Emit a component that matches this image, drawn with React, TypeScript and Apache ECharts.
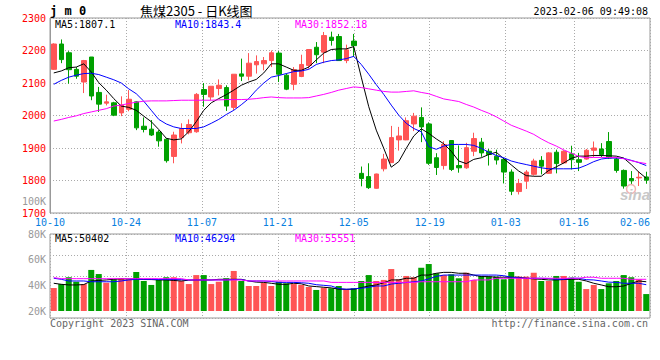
import React, { useEffect, useRef } from 'react';
import * as echarts from 'echarts';

const dates = [
  '10-10','10-11','10-12','10-13','10-14','10-17','10-18','10-19','10-20','10-21',
  '10-24','10-25','10-26','10-27','10-28','10-31','11-01','11-02','11-03','11-04',
  '11-07','11-08','11-09','11-10','11-11','11-14','11-15','11-16','11-17','11-18',
  '11-21','11-22','11-23','11-24','11-25','11-28','11-29','11-30','12-01','12-02',
  '12-05','12-06','12-07','12-08','12-09','12-12','12-13','12-14','12-15','12-16',
  '12-19','12-20','12-21','12-22','12-23','12-26','12-27','12-28','12-29','12-30',
  '01-03','01-04','01-05','01-06','01-09','01-10','01-11','01-12','01-13','01-16',
  '01-17','01-18','01-19','01-20','01-30','01-31','02-01','02-02','02-03','02-06'
];
const tickLabels = ['10-10','10-24','11-07','11-21','12-05','12-19','01-03','01-16','02-06'];

const opens = [
  2142,2220,2193,2142,2103,2180,2071,2038,2039,2008,
  2019,2042,1967,1958,1949,1927,1874,1932,1947,1950,
  2080,2057,2083,2086,2025,2128,2121,2156,2159,2169,
  2192,2124,2096,2120,2154,2210,2195,2241,2243,2169,
  2229,1822,1812,1776,1836,1855,1925,1925,1974,1994,
  1974,1870,1846,1923,1846,1839,1890,1918,1890,1875,
  1865,1826,1766,1798,1819,1862,1822,1887,1854,1882,
  1864,1866,1893,1897,1920,1866,1831,1806,1808,1811
];
const closes = [
  2220,2172,2141,2121,2169,2060,2035,2042,2001,2032,
  2050,1962,1957,1940,1922,1861,1940,1960,1972,2065,
  2065,2090,2093,2029,2127,2121,2161,2166,2169,2193,
  2127,2081,2141,2157,2203,2187,2246,2231,2169,2202,
  2215,1806,1778,1820,1866,1932,1937,1984,1998,1965,
  1853,1840,1911,1834,1839,1901,1929,1885,1880,1863,
  1826,1767,1791,1826,1860,1844,1885,1852,1890,1864,
  1856,1893,1900,1880,1869,1831,1783,1799,1810,1801
];
const lows = [
  2140,2161,2098,2113,2069,2047,2011,2031,1998,1998,
  2013,1955,1948,1937,1904,1855,1853,1914,1942,1947,
  2027,2047,2062,2014,2016,2106,2108,2129,2139,2149,
  2103,2078,2078,2118,2144,2161,2161,2215,2169,2161,
  2180,1782,1774,1775,1828,1855,1892,1924,1952,1918,
  1848,1817,1834,1829,1824,1836,1875,1873,1846,1849,
  1791,1755,1757,1774,1815,1819,1821,1822,1852,1834,
  1829,1864,1872,1872,1866,1824,1775,1786,1783,1790
];
const highs = [
  2222,2234,2198,2149,2171,2180,2088,2064,2042,2059,
  2078,2044,1994,1986,1955,1930,1950,1976,1988,2069,
  2100,2090,2111,2093,2127,2175,2192,2185,2180,2200,
  2198,2129,2149,2187,2203,2226,2257,2258,2251,2218,
  2251,1843,1853,1821,1882,1968,1965,1994,2008,2025,
  1979,1884,1921,1923,1908,1916,1947,1931,1897,1895,
  1870,1834,1805,1832,1867,1875,1887,1895,1893,1907,
  1885,1897,1920,1915,1949,1871,1834,1829,1829,1827
];

const ma5 = [
  2131,2137,2147,2149,2159,2134,2101,2078,2052,2029,
  2025,2016,1998,1981,1957,1930,1925,1928,1950,1981,
  2016,2039,2052,2064,2078,2093,2103,2111,2131,2159,
  2159,2149,2139,2139,2149,2171,2192,2203,2205,2205,
  2212,2118,2027,1955,1899,1841,1858,1899,1937,1959,
  1945,1928,1913,1890,1860,1852,1865,1870,1880,1887,
  1867,1848,1829,1815,1813,1813,1831,1842,1854,1868,
  1875,1875,1877,1877,1876,1875,1869,1849,1826,1807
];
const ma10 = [
  2096,2108,2118,2124,2129,2130,2126,2118,2110,2100,
  2082,2067,2044,2016,1988,1974,1965,1960,1960,1960,
  1965,1976,1988,2003,2016,2033,2052,2078,2100,2118,
  2123,2129,2135,2137,2142,2157,2164,2169,2171,2175,
  2182,2157,2127,2095,2065,2032,2001,1976,1960,1950,
  1904,1896,1906,1911,1911,1911,1908,1899,1887,1877,
  1870,1860,1854,1849,1844,1839,1836,1836,1836,1836,
  1838,1847,1858,1866,1869,1869,1868,1862,1855,1846
];
const ma30 = [
  1983,1988,1994,1999,2006,2011,2016,2021,2029,2032,
  2037,2041,2044,2045,2045,2045,2046,2047,2047,2047,
  2047,2047,2048,2049,2049,2049,2050,2052,2055,2057,
  2055,2054,2054,2054,2055,2060,2065,2071,2078,2083,
  2088,2086,2082,2078,2074,2072,2072,2074,2076,2071,
  2067,2059,2051,2047,2043,2034,2026,2016,2007,1996,
  1983,1970,1961,1952,1942,1928,1916,1906,1894,1884,
  1874,1870,1871,1871,1871,1871,1867,1861,1856,1852
];

const volumes = [
  37900,41000,46300,42800,41000,52000,48800,42000,44700,45500,
  44700,50400,43400,40300,44200,46300,46300,43400,41000,48000,
  48000,41000,42800,45500,51200,43400,39500,39500,42000,39500,
  42800,41600,41000,40300,38700,36400,38200,37700,39500,37100,
  37700,43400,48000,43400,44200,52700,44700,47300,46300,53700,
  56600,49400,48000,48600,45500,49800,44200,47300,46800,46800,
  44700,50400,46800,46800,49800,43400,43400,47300,47300,46000,
  42800,37100,40300,37100,41600,43400,48000,46300,44700,33200
];
const volMa5 = [
  41600,40800,40300,40300,40600,43400,43800,44200,44700,45000,
  45000,45000,44500,44500,44200,44200,43800,43400,44000,44200,
  44200,44200,44700,44700,44700,44700,43400,42500,42300,41600,
  40800,40800,41600,41200,39500,39000,38500,38000,37000,36900,
  36900,38200,39500,40300,42000,44200,44200,45500,45500,48000,
  48000,49400,50100,50100,49400,49400,48000,46800,46800,46300,
  46300,46300,46300,45500,45000,44700,44200,44200,44500,44700,
  44700,43400,41600,40300,38900,38900,39500,41500,43400,42800
];
const volMa10 = [
  45500,44700,43400,43400,43400,42800,42800,42800,42800,43400,
  44200,44700,44700,44700,44500,44500,44500,44400,44200,44200,
  44200,44200,44200,44200,44500,44500,43400,43400,43400,43000,
  42300,42300,42300,42000,41600,40500,40000,39500,37500,36900,
  37300,37700,38500,39500,39500,41000,41600,42200,42800,43400,
  45000,47000,48000,48000,48000,48000,48000,48000,48000,48000,
  47500,46300,45800,45500,45500,45500,45300,44700,44700,45500,
  45500,44400,44200,43400,42500,42300,41600,41600,41600,40500
];
const volMa30 = [
  46000,45200,45200,45200,45200,45200,45200,45200,45200,45200,
  45200,45200,45200,45200,45200,45200,45200,45200,44200,44200,
  44200,44200,44200,44200,44200,44200,43400,43400,43400,43400,
  43400,43400,43400,43400,43400,43400,43400,42300,42300,42300,
  42300,42300,42300,42300,42300,42300,42300,42300,42300,42800,
  42800,42800,42800,42800,42800,42800,44200,44200,44200,45500,
  45500,45500,45500,45500,45500,45500,45500,45500,45500,45500,
  45500,46300,46300,45500,45500,45500,45500,44700,44700,44700
];

const priceMaLabels = ['MA5:1807.1', 'MA10:1843.4', 'MA30:1852.18'];
const volMaLabels = ['MA5:50402', 'MA10:46294', 'MA30:55551'];
const maColors = ['#000000', '#0000ff', '#ff00ff'];
const titleText = '焦煤2305 - 日K线图';
const symbolText = 'j m 0';
const timeText = '2023-02-06 09:49:08';

const UP = '#ff5555';
const DOWN = '#00a000';
const MONO = "'DejaVu Sans Mono', monospace";
const GRIDC = '#aaaaaa';
const BORDER = '#999999';

export default function App() {
  const ref = useRef<HTMLDivElement>(null);
  useEffect(() => {
    const chart = echarts.init(ref.current as HTMLDivElement, null, { renderer: 'svg' });
    const candleData = dates.map((_, i) => [opens[i], closes[i], lows[i], highs[i]]);
    const volData = volumes.map((v, i) => ({
      value: v,
      itemStyle: { color: closes[i] >= opens[i] ? UP : DOWN },
    }));
    const labelDates = dates.map((d, i) =>
      i === dates.length - 1 ? { value: d, textStyle: { align: 'right' } } : d
    );
    const showTick = (_: number, v: string) => tickLabels.indexOf(v) >= 0;
    const dotted = { color: GRIDC, type: [1, 2] as any, width: 1 };

    const txt = (text: string, x: number, y: number, fill: string, font: string, align = 'left') => ({
      type: 'text',
      x,
      y,
      silent: true,
      z: 10,
      style: {
        text,
        fill,
        font,
        align,
        verticalAlign: 'middle',
        textAlign: align,
        textVerticalAlign: 'middle',
      },
    });

    const maX = [55, 175, 295];
    const graphics: any[] = [
      txt(symbolText, 50, 11, '#000', `bold 12px ${MONO}`),
      txt(titleText, 140, 10, '#000', "13px 'Noto Sans CJK SC'"),
      txt(timeText, 648, 11, '#000', `10px ${MONO}`, 'right'),
      txt('100K', 46, 201, '#999', `10px ${MONO}`, 'right'),
      txt('Copyright 2023 SINA.COM', 50, 323, '#666', `10px ${MONO}`),
      txt('http://finance.sina.com.cn', 648, 323, '#666', `10px ${MONO}`, 'right'),
      {
        type: 'circle',
        silent: true,
        z: 9,
        shape: { cx: 631, cy: 189, r: 4.5 },
        style: { fill: 'rgba(0,0,0,0)', stroke: '#f2b3b3', lineWidth: 1.5 },
      },
      txt('sina', 620, 194, '#c8c8c8', "italic bold 15px 'Liberation Sans'"),
    ];
    priceMaLabels.forEach((t, k) => graphics.push(txt(t, maX[k], 24.5, maColors[k], `10px ${MONO}`)));
    volMaLabels.forEach((t, k) => graphics.push(txt(t, maX[k], 238.5, maColors[k], `10px ${MONO}`)));

    const lineSeries = (data: number[], color: string, xi: number, yi: number) => ({
      type: 'line',
      data,
      xAxisIndex: xi,
      yAxisIndex: yi,
      showSymbol: false,
      symbol: 'none',
      z: 4,
      lineStyle: { color, width: 1 },
      silent: true,
    });

    chart.setOption({
      animation: false,
      backgroundColor: '#ffffff',
      grid: [
        { left: 50, right: 10, top: 18, height: 195, show: true, borderColor: BORDER, borderWidth: 1, backgroundColor: 'transparent' },
        { left: 50, right: 10, top: 234, height: 84, show: true, borderColor: BORDER, borderWidth: 1, backgroundColor: 'transparent' },
        { left: 50, right: 10, top: 234, height: 77 },
      ],
      xAxis: [
        { type: 'category', gridIndex: 0, position: 'top', data: dates, boundaryGap: true, show: false },
        {
          type: 'category', gridIndex: 0, position: 'bottom', data: labelDates, boundaryGap: false,
          axisLine: { show: false }, axisTick: { show: false },
          axisLabel: { interval: showTick, color: '#0a7fe0', fontFamily: MONO, fontSize: 10, margin: 4 },
          splitLine: { show: true, interval: showTick, lineStyle: dotted },
        },
        {
          type: 'category', gridIndex: 1, position: 'bottom', data: dates, boundaryGap: false,
          axisLine: { show: false }, axisTick: { show: false }, axisLabel: { show: false },
          splitLine: { show: true, interval: showTick, lineStyle: dotted },
        },
        { type: 'category', gridIndex: 2, position: 'bottom', data: dates, boundaryGap: true, show: false },
      ],
      yAxis: [
        {
          type: 'value', gridIndex: 0, min: 1700, max: 2300, interval: 100,
          axisLine: { show: true, lineStyle: { color: BORDER } }, axisTick: { show: false },
          axisLabel: { color: '#ff0000', fontFamily: MONO, fontSize: 10, margin: 4, formatter: (v: number) => String(v) },
          splitLine: { show: true, lineStyle: dotted },
        },
        {
          type: 'value', gridIndex: 1, min: 0, max: 80, interval: 20,
          axisLine: { show: false }, axisTick: { show: false }, axisLabel: { show: false },
          splitLine: { show: true, lineStyle: dotted },
        },
        {
          type: 'value', gridIndex: 2, min: 20000, max: 80000, interval: 20000,
          axisLine: { show: false }, axisTick: { show: false },
          axisLabel: {
            color: '#999999', fontFamily: MONO, fontSize: 10, margin: 4,
            formatter: (v: number) => `${v / 1000}K`,
          },
          splitLine: { show: false },
        },
      ],
      series: [
        {
          type: 'candlestick',
          xAxisIndex: 0,
          yAxisIndex: 0,
          data: candleData,
          barWidth: 5,
          silent: true,
          itemStyle: { color: UP, color0: DOWN, borderColor: UP, borderColor0: DOWN, borderWidth: 1 },
        },
        lineSeries(ma5, maColors[0], 0, 0),
        lineSeries(ma10, maColors[1], 0, 0),
        lineSeries(ma30, maColors[2], 0, 0),
        {
          type: 'bar',
          xAxisIndex: 3,
          yAxisIndex: 2,
          data: volData,
          barWidth: 6,
          silent: true,
        },
        lineSeries(volMa5, maColors[0], 3, 2),
        lineSeries(volMa10, maColors[1], 3, 2),
        lineSeries(volMa30, maColors[2], 3, 2),
      ],
      graphic: graphics,
    });
    return () => chart.dispose();
  }, []);
  return (
    <div
      ref={ref}
      style={{ position: 'fixed', left: 0, top: 0, width: 660, height: 360, background: '#fff' }}
    />
  );
}
